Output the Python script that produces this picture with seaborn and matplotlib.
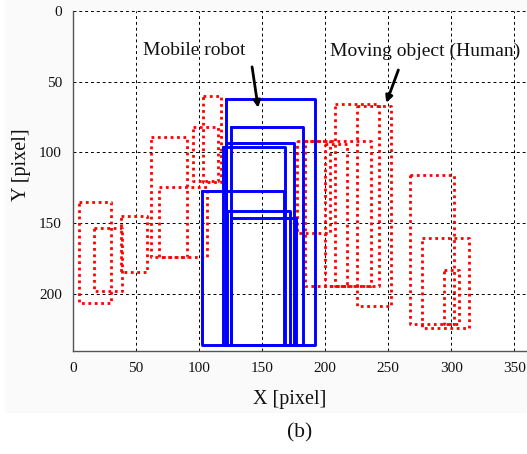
import matplotlib
matplotlib.use("Agg")
import matplotlib.pyplot as plt
from matplotlib.patches import Rectangle
import numpy as np
import pandas as pd
import seaborn as sns

# bounding boxes: left, right, top, bottom (image pixels)
robot_x0 = [121, 125, 121, 119, 102, 122, 125]
robot_x1 = [192, 182, 175, 168, 167, 172, 177]
robot_y0 = [62, 82, 93, 96, 127, 141, 146]
robot_y1 = [236, 236, 236, 236, 236, 236, 236]

human_x0 = [5, 17, 38, 62, 68, 103, 95, 225, 208, 184, 200, 178, 267, 277, 294]
human_x1 = [30, 39, 59, 90, 106, 117, 115, 252, 243, 236, 217, 204, 302, 314, 306]
human_y0 = [135, 153, 145, 89, 124, 60, 82, 67, 66, 92, 94, 92, 116, 160, 183]
human_y1 = [206, 198, 184, 174, 174, 121, 120, 208, 194, 194, 194, 157, 221, 224, 221]

x_ticks = [0, 50, 100, 150, 200, 250, 300, 350]
y_ticks = [0, 50, 100, 150, 200]


def outlines(x0, x1, y0, y1):
    # closed outline of every box, one unit per box
    rows = []
    for i in range(len(x0)):
        xs = [x0[i], x1[i], x1[i], x0[i], x0[i]]
        ys = [y0[i], y0[i], y1[i], y1[i], y0[i]]
        for k in range(5):
            rows.append({"box": i, "order": k, "x": xs[k], "y": ys[k]})
    return pd.DataFrame(rows)


sns.set_style("white")
plt.rcParams["font.family"] = ["Liberation Serif", "DejaVu Serif"]

fig = plt.figure(figsize=(5.27, 4.54), dpi=100)
fig.patches.append(Rectangle((0.01, 0.0925), 0.99, 0.9075, transform=fig.transFigure,
                             color="#fafafa", zorder=-10))
ax = fig.add_axes([73 / 527, 1 - 351 / 454, 454 / 527, 340.3 / 454])
ax.set_facecolor("white")

human = outlines(human_x0, human_x1, human_y0, human_y1)
robot = outlines(robot_x0, robot_x1, robot_y0, robot_y1)

sns.lineplot(data=human, x="x", y="y", units="box", estimator=None, sort=False,
             color="#ff0000", linestyle=(0, (1, 1.3)), lw=2.0, ax=ax, legend=False)
sns.lineplot(data=robot, x="x", y="y", units="box", estimator=None, sort=False,
             color="#0000ff", lw=2.1, ax=ax, legend=False)

ax.set_xlim(0, 360)
ax.set_ylim(240, 0)
ax.set_xticks(x_ticks)
ax.set_yticks(y_ticks)
ax.tick_params(length=0, labelsize=11, pad=8, labelcolor="#111111")
ax.grid(True, color="black", linestyle=(0, (3, 3)), lw=0.7)
for s in ["top", "right"]:
    ax.spines[s].set_visible(False)
for s in ["left", "bottom"]:
    ax.spines[s].set_color("#555555")
    ax.spines[s].set_linewidth(1.0)

ax.set_xlabel("X [pixel]", fontsize=14.5, color="#111111")
ax.set_ylabel("Y [pixel]", fontsize=14.5, color="#111111")
ax.xaxis.set_label_coords(0.478, -0.115)
ax.yaxis.set_label_coords(-0.093, 0.547)

ax.text(96, 28.4, "Mobile robot", fontsize=14, ha="center", va="center", color="#111111")
ax.text(279.5, 28.4, "Moving object (Human)", fontsize=14, ha="center", va="center",
        color="#111111")
arrow = dict(arrowstyle="-|>", color="black", lw=2, mutation_scale=10, shrinkA=0, shrinkB=0)
ax.annotate("", xy=(146.8, 68.5), xytext=(142, 39.6), arrowprops=arrow)
ax.annotate("", xy=(248.4, 65), xytext=(258, 41.8), arrowprops=arrow)

fig.text(300 / 527, 1 - 433 / 454, "(b)", fontsize=15.5, ha="center", va="center",
         color="#111111")

fig.savefig("out.png", dpi=100)
